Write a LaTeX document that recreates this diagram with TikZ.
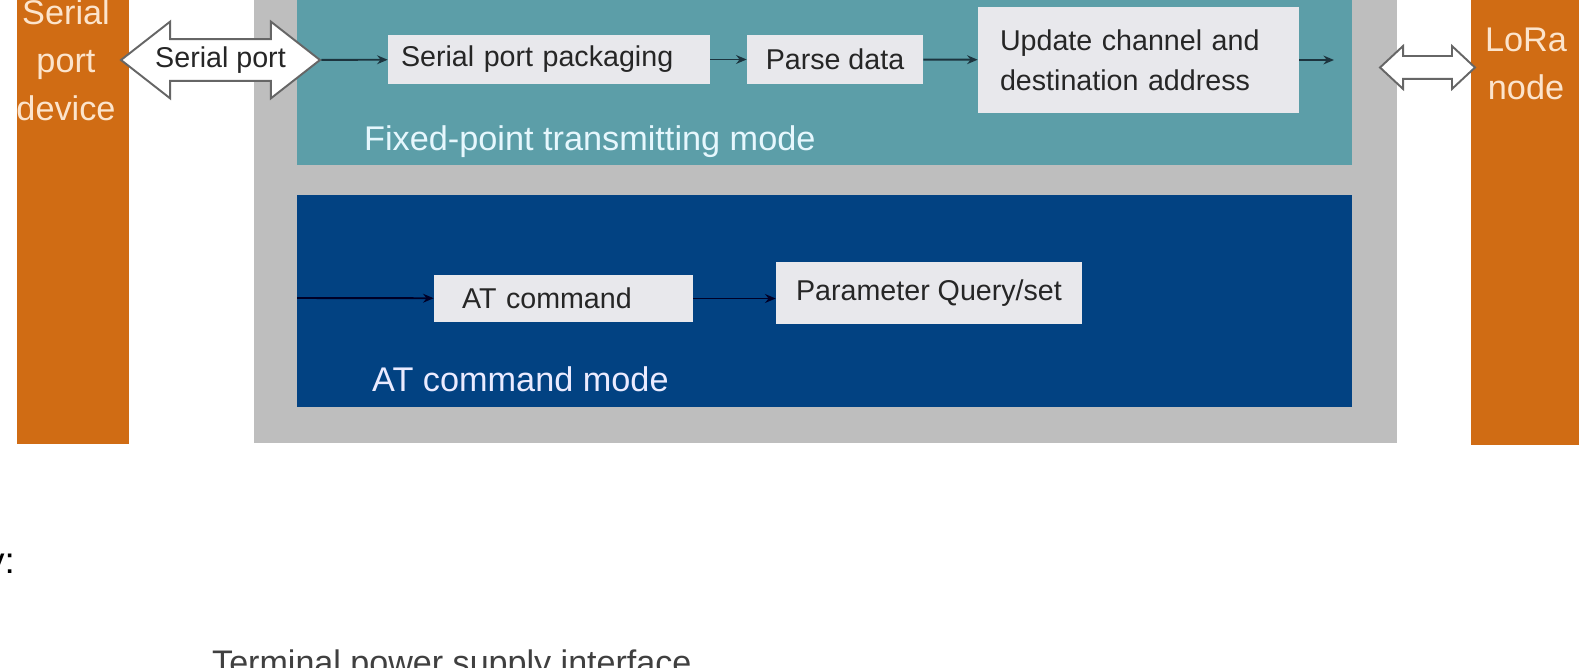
\documentclass[tikz,border=0pt]{standalone}
\usepackage{fontspec}
\setmainfont{Liberation Sans}
\usepackage{xcolor}
\usetikzlibrary{shapes.arrows,arrows.meta}
\definecolor{devorange}{RGB}{208,108,20}
\definecolor{framegray}{RGB}{190,190,190}
\definecolor{modeteal}{RGB}{92,158,168}
\definecolor{modeblue}{RGB}{2,66,130}
\definecolor{boxfill}{RGB}{232,232,236}
\definecolor{peach}{RGB}{252,228,204}
\definecolor{linedark}{RGB}{28,52,62}

\begin{document}
\begin{tikzpicture}[x=0.02cm,y=-0.02cm,
        procbox/.style={fill=boxfill,text=black!85,inner sep=0pt,minimum height=0.98cm,
            font=\fontsize{16.3}{22.7}\selectfont},
        flow/.style={draw=linedark,line width=1.1pt,-{Stealth[length=6pt,width=5pt]}},
        hollow/.style={double arrow,draw=black!60,line width=1.1pt,fill=white,inner xsep=0pt},
        devtext/.style={text=peach,align=center,font=\fontsize{19.5}{27.2}\selectfont},
        modetext/.style={anchor=west,font=\fontsize{19.5}{23}\selectfont}]
    \useasboundingbox (0,0) rectangle (1579,668);
    \clip (0,0) rectangle (1579,668);
    \fill[devorange] (17,-60) rectangle (129,444);
    \fill[devorange] (1471,-60) rectangle (1600,445);
    \fill[framegray] (254,-60) rectangle (1397,443);
    \fill[modeteal] (297,-60) rectangle (1352,165);
    \fill[modeblue] (297,195) rectangle (1352,407);

    \node[devtext] (device) at (66,60) {Serial\\port\\device};
    \node[devtext] (lora) at (1526,64) {LoRa\\node};

    \node[hollow,minimum height=3.98cm,inner ysep=0.13cm,double arrow head extend=0.35cm,
        double arrow tip angle=76,font=\fontsize{16.3}{20}\selectfont,text=black!85] (serial) at (220.5,60) {Serial port};
    \node[hollow,minimum height=1.9cm,inner ysep=0.21cm,double arrow head extend=0.2cm,
        double arrow tip angle=86] (radio) at (1427.5,67.5) {};

    \node[procbox,inner xsep=0.26cm,text width=5.92cm,align=left] (pack) at (549,59.5) {Serial port packaging};
    \node[procbox,minimum width=3.52cm] (parse) at (835,59.5) {Parse data};
    \node[procbox,inner xsep=0.44cm,text width=5.54cm,align=left,minimum height=2.12cm] (update) at (1138.5,60)
        {Update channel and\\destination address};
    \coordinate (txout) at (1334,60);
    \node[modetext,text=white!90!cyan] (fixed) at (358,142) {Fixed-point transmitting mode};

    \coordinate (atin) at (297,298);
    \node[procbox,inner xsep=0.56cm,text width=4.06cm,align=left,minimum height=0.94cm] (atcmd) at (563.5,298.5) {AT command};
    \node[procbox,minimum width=6.12cm,minimum height=1.24cm] (param) at (929,293) {Parameter Query/set};
    \node[modetext,text=white!92!blue] (atmode) at (366,379) {AT command mode};

    \draw[flow] (serial) -- (pack);
    \draw[flow] (pack) -- (parse);
    \draw[flow] (parse) -- (update);
    \draw[flow] (update.east |- txout) -- (txout);
    \draw[flow,draw=black!85!blue] (atin) -- (atcmd);
    \draw[flow,draw=black!85!blue] (atcmd.east) -- (param.west |- atcmd.east);

    \node[anchor=base east,font=\fontsize{21}{24}\selectfont] (heading) at (21,574) {y:};
    \node[anchor=base west,text=black!75,font=\fontsize{19.4}{23}\selectfont] (power) at (206,674) {Terminal power supply interface};
\end{tikzpicture}
\end{document}
